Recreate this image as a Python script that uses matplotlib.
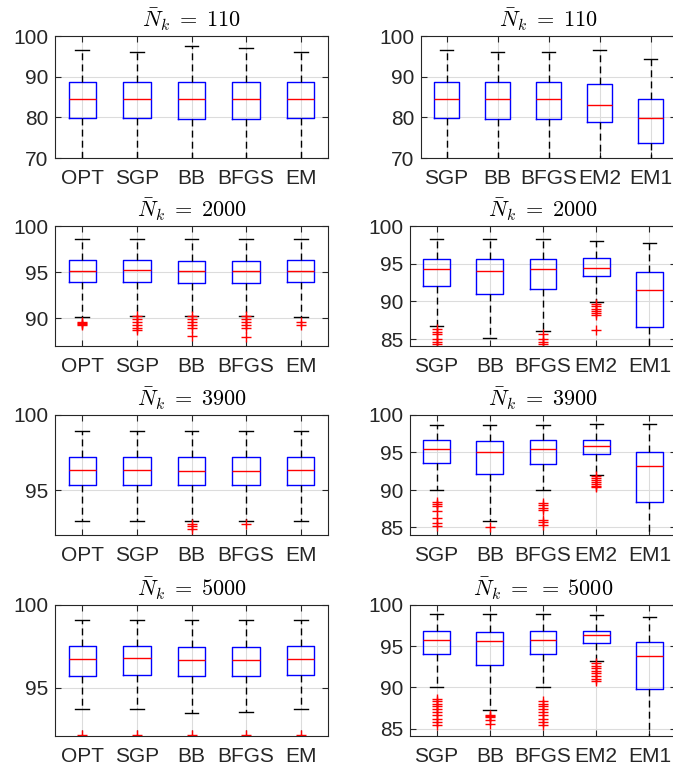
import matplotlib
matplotlib.use("Agg")
import matplotlib.pyplot as plt

plt.rcParams['font.family'] = ['Liberation Sans', 'DejaVu Sans']
plt.rcParams['mathtext.fontset'] = 'cm'

# ---- data (per panel: median, q1, q3, whisker low/high, outliers) ----
labels_left = ['OPT', 'SGP', 'BB', 'BFGS', 'EM']
labels_right = ['SGP', 'BB', 'BFGS', 'EM2', 'EM1']

titles_left = [r'$\bar{N}_k \;=\; 110$', r'$\bar{N}_k \;=\; 2000$', r'$\bar{N}_k \;=\; 3900$', r'$\bar{N}_k \;=\; 5000$']
titles_right = [r'$\bar{N}_k \;=\; 110$', r'$\bar{N}_k \;=\; 2000$', r'$\bar{N}_k \;=\; 3900$', r'$\bar{N}_k \;=\; = \;5000$']

# row 1, N = 110
med_110_l = [84.6, 84.5, 84.6, 84.55, 84.4]
q1_110_l = [79.8, 79.8, 79.7, 79.6, 79.8]
q3_110_l = [88.7, 88.7, 88.7, 88.7, 88.7]
lo_110_l = [60, 60, 60, 60, 60]
hi_110_l = [96.6, 96.05, 97.5, 97.1, 96.05]
out_110_l = [[], [], [], [], []]

med_110_r = [84.6, 84.4, 84.4, 83.1, 79.9]
q1_110_r = [79.8, 79.7, 79.7, 78.9, 73.8]
q3_110_r = [88.7, 88.7, 88.7, 88.1, 84.55]
lo_110_r = [60, 60, 60, 60, 60]
hi_110_r = [96.6, 96.05, 96.05, 96.5, 94.3]
out_110_r = [[], [], [], [], []]

# row 2, N = 2000
med_2000_l = [95.16, 95.2, 95.1, 95.1, 95.16]
q1_2000_l = [93.9, 93.9, 93.83, 93.83, 93.9]
q3_2000_l = [96.28, 96.28, 96.2, 96.2, 96.28]
lo_2000_l = [90.18, 90.3, 90.3, 90.3, 90.18]
hi_2000_l = [98.56, 98.56, 98.56, 98.56, 98.56]
out_2000_l = [[89.6, 89.5, 89.4, 89.3],
              [90.2, 89.9, 89.6, 89.3, 89.0, 88.7],
              [90.2, 89.9, 89.6, 89.3, 89.0, 88.1],
              [90.2, 89.9, 89.6, 89.3, 89.0, 88.0],
              [89.6, 89.3]]

med_2000_r = [94.3, 94.1, 94.3, 94.5, 91.46]
q1_2000_r = [92.0, 91.0, 91.7, 93.36, 86.6]
q3_2000_r = [95.58, 95.58, 95.58, 95.7, 93.9]
lo_2000_r = [86.8, 85.2, 86.1, 89.95, 80]
hi_2000_r = [98.3, 98.3, 98.3, 97.97, 97.8]
out_2000_r = [[86.3, 86.0, 85.7, 85.0, 84.65, 84.3],
              [],
              [85.75, 85.0, 84.65, 84.3],
              [89.7, 89.4, 89.05, 88.76, 88.5, 88.2, 86.2],
              []]

# row 3, N = 3900
med_3900_l = [96.33, 96.33, 96.26, 96.28, 96.33]
q1_3900_l = [95.35, 95.35, 95.35, 95.35, 95.35]
q3_3900_l = [97.17, 97.17, 97.17, 97.17, 97.17]
lo_3900_l = [92.9, 92.9, 92.9, 92.9, 92.9]
hi_3900_l = [98.9, 98.9, 98.9, 98.9, 98.9]
out_3900_l = [[], [], [92.75, 92.57, 92.4], [92.75], []]

med_3900_r = [95.4, 95.1, 95.4, 95.9, 93.2]
q1_3900_r = [93.6, 92.1, 93.5, 94.8, 88.4]
q3_3900_r = [96.6, 96.5, 96.6, 96.7, 95.1]
lo_3900_r = [90.0, 85.9, 90.0, 92.0, 80]
hi_3900_r = [98.7, 98.7, 98.7, 98.85, 98.8]
out_3900_r = [[88.45, 88.1, 87.8, 87.25, 86.3, 85.6, 85.2],
              [85.05],
              [88.3, 88.0, 87.65, 87.3, 86.0, 85.7, 85.3],
              [91.8, 91.55, 91.3, 91.1, 90.8, 90.5, 90.35],
              []]

# row 4, N = 5000
med_5000_l = [96.73, 96.77, 96.7, 96.7, 96.73]
q1_5000_l = [95.73, 95.79, 95.73, 95.73, 95.79]
q3_5000_l = [97.5, 97.54, 97.46, 97.46, 97.5]
lo_5000_l = [93.73, 93.7, 93.47, 93.55, 93.7]
hi_5000_l = [99.1, 99.1, 99.1, 99.1, 99.1]
out_5000_l = [[92.13], [92.13], [92.13], [92.13], [92.13]]

med_5000_r = [95.8, 95.6, 95.8, 96.3, 93.85]
q1_5000_r = [94.1, 92.7, 94.0, 95.35, 89.8]
q3_5000_r = [96.85, 96.7, 96.85, 96.9, 95.55]
lo_5000_r = [90.0, 87.2, 90.0, 93.25, 80]
hi_5000_r = [98.9, 98.9, 98.9, 98.75, 98.6]
out_5000_r = [[88.65, 88.4, 88.0, 87.75, 87.4, 87.0, 86.6, 86.2, 85.8, 85.4],
              [86.7, 86.5, 86.4, 86.0, 85.5],
              [88.4, 88.0, 87.75, 87.4, 87.0, 86.6, 86.2, 85.8, 85.4],
              [92.9, 92.6, 92.3, 92.0, 91.7, 91.35, 91.05, 90.8],
              []]

panels = [
    # (row, col, labels, title, med, q1, q3, lo, hi, out, ylim, yticks)
    (0, 0, labels_left, titles_left[0], med_110_l, q1_110_l, q3_110_l, lo_110_l, hi_110_l, out_110_l, (70, 100), [70, 80, 90, 100]),
    (0, 1, labels_right, titles_right[0], med_110_r, q1_110_r, q3_110_r, lo_110_r, hi_110_r, out_110_r, (70, 100), [70, 80, 90, 100]),
    (1, 0, labels_left, titles_left[1], med_2000_l, q1_2000_l, q3_2000_l, lo_2000_l, hi_2000_l, out_2000_l, (87.0, 100), [90, 95, 100]),
    (1, 1, labels_right, titles_right[1], med_2000_r, q1_2000_r, q3_2000_r, lo_2000_r, hi_2000_r, out_2000_r, (84.1, 100), [85, 90, 95, 100]),
    (2, 0, labels_left, titles_left[2], med_3900_l, q1_3900_l, q3_3900_l, lo_3900_l, hi_3900_l, out_3900_l, (92.0, 100), [95, 100]),
    (2, 1, labels_right, titles_right[2], med_3900_r, q1_3900_r, q3_3900_r, lo_3900_r, hi_3900_r, out_3900_r, (84.0, 100), [85, 90, 95, 100]),
    (3, 0, labels_left, titles_left[3], med_5000_l, q1_5000_l, q3_5000_l, lo_5000_l, hi_5000_l, out_5000_l, (92.08, 100), [95, 100]),
    (3, 1, labels_right, titles_right[3], med_5000_r, q1_5000_r, q3_5000_r, lo_5000_r, hi_5000_r, out_5000_r, (84.1, 100), [85, 90, 95, 100]),
]

W, H = 673, 770
fig = plt.figure(figsize=(W / 100, H / 100), dpi=100)

# axes boxes in pixels
row_tb = [(36, 158), (226, 346), (415, 535), (605, 736)]
col_lr = [[(55, 328), (421, 676)], [(55, 328), (410, 676)], [(55, 328), (410, 676)], [(55, 328), (410, 676)]]

grey = '#262626'
for (r, c, labels, title, med, q1, q3, lo, hi, out, ylim, yticks) in panels:
    l, rr = col_lr[r][c]
    t, b = row_tb[r]
    ax = fig.add_axes([l / W, 1 - b / H, (rr - l) / W, (b - t) / H])
    stats = []
    for i in range(len(labels)):
        stats.append(dict(med=med[i], q1=q1[i], q3=q3[i], whislo=lo[i], whishi=hi[i],
                          fliers=out[i], label=labels[i]))
    ax.bxp(stats, widths=0.5, capwidths=0.25,
           boxprops=dict(color='blue', linewidth=1.0),
           medianprops=dict(color='red', linewidth=1.0),
           whiskerprops=dict(color='black', linewidth=1.0, linestyle=(0, (5, 3))),
           capprops=dict(color='black', linewidth=1.0),
           flierprops=dict(marker='+', markeredgecolor='red', markersize=7, markeredgewidth=1.0))
    ax.set_xlim(0.5, len(labels) + 0.5)
    ax.set_ylim(*ylim)
    ax.set_yticks(yticks)
    ax.grid(True, color='#dcdcdc', linewidth=0.8)
    ax.set_axisbelow(True)
    ax.tick_params(direction='in', top=True, right=True, length=4, width=0.8,
                   labelsize=15, colors=grey)
    ax.tick_params(axis='x', pad=8)
    ax.tick_params(axis='y', pad=5)
    for s in ax.spines.values():
        s.set_color(grey)
        s.set_linewidth(0.8)
    ax.set_title(title, fontsize=16, pad=6, color='black')

fig.savefig('out.png', dpi=100)
